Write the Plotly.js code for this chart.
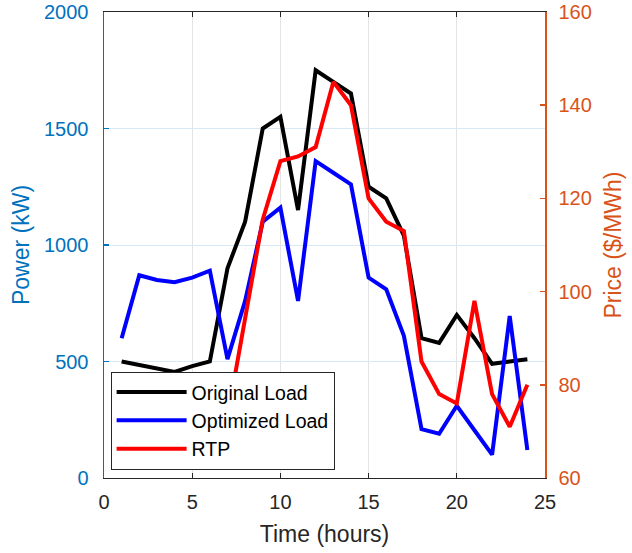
<!DOCTYPE html>
<html>
<head>
<meta charset="utf-8">
<script src="https://cdn.plot.ly/plotly-3.0.1.min.js"></script>
<style>html,body{margin:0;padding:0;background:#fff;}#chart{width:632px;height:553px;}</style>
</head>
<body>
<div id="chart"></div>
<script>
var hours = [1,2,3,4,5,6,7,8,9,10,11,12,13,14,15,16,17,18,19,20,21,22,23,24];
var originalLoad = [500,485,470,455,480,500,900,1100,1500,1550,1150,1750,1700,1650,1250,1200,1040,600,580,700,600,490,500,510];
var optimizedLoad = [600,870,850,840,860,890,510,760,1100,1160,760,1360,1310,1260,860,810,610,210,190,310,205,100,695,120];
var rtpHours = [7,8,9,10,11,12,13,14,15,16,17,18,19,20,21,22,23,24];
var rtpPrice = [73,94,115.5,128,129,131,145,140,120,115,113,85,78,76,98,78,71,80];

var FONT = 'Liberation Sans, Arial, Helvetica, sans-serif';
var BLUE_AX = '#0072BD';
var ORANGE_AX = '#D95319';
var DARK = '#262626';

var traces = [
  {x: hours, y: originalLoad, name: 'Original Load', type: 'scatter', mode: 'lines',
   line: {color: '#000000', width: 4}, yaxis: 'y'},
  {x: hours, y: optimizedLoad, name: 'Optimized Load', type: 'scatter', mode: 'lines',
   line: {color: '#0000FF', width: 4}, yaxis: 'y'},
  {x: rtpHours, y: rtpPrice, name: 'RTP', type: 'scatter', mode: 'lines',
   line: {color: '#FF0000', width: 4}, yaxis: 'y2'}
];

var layout = {
  width: 632, height: 553,
  margin: {l: 104, r: 87, t: 12, b: 75, pad: 0},
  paper_bgcolor: '#ffffff', plot_bgcolor: '#ffffff',
  font: {family: FONT, size: 20, color: DARK},
  showlegend: true,
  legend: {
    x: 0.015, y: 0.228, xanchor: 'left', yanchor: 'top',
    bgcolor: '#ffffff', bordercolor: DARK, borderwidth: 1,
    font: {family: FONT, size: 19.5, color: '#000000'},
    itemwidth: 70, tracegroupgap: 0
  },
  xaxis: {
    range: [0, 25], tick0: 0, dtick: 5, tickmode: 'linear',
    ticks: 'inside', ticklen: 5, tickwidth: 1, tickcolor: DARK,
    showline: true, linecolor: DARK, linewidth: 1, mirror: 'ticks',
    showgrid: true, gridcolor: '#e4e4e4', gridwidth: 1, zeroline: false,
    tickfont: {family: FONT, size: 20, color: DARK},
    ticklabelstandoff: 6,
    title: {text: 'Time (hours)', font: {family: FONT, size: 23, color: DARK}, standoff: 13}
  },
  yaxis: {
    range: [0, 2000], tick0: 0, dtick: 500, tickmode: 'linear',
    ticks: 'inside', ticklen: 5, tickwidth: 1.5, tickcolor: BLUE_AX,
    showline: true, linecolor: BLUE_AX, linewidth: 1.5, mirror: false,
    showgrid: true, gridcolor: '#d9e8f5', gridwidth: 1, zeroline: false,
    tickfont: {family: FONT, size: 20, color: BLUE_AX},
    ticklabelstandoff: 10,
    title: {text: 'Power (kW)', font: {family: FONT, size: 23, color: BLUE_AX}, standoff: 8}
  },
  yaxis2: {
    overlaying: 'y', side: 'right',
    range: [60, 160], tick0: 60, dtick: 20, tickmode: 'linear',
    ticks: 'inside', ticklen: 5, tickwidth: 1.5, tickcolor: ORANGE_AX,
    showline: true, linecolor: ORANGE_AX, linewidth: 1.5,
    showgrid: false, zeroline: false,
    tickfont: {family: FONT, size: 20, color: ORANGE_AX},
    ticklabelstandoff: 8,
    title: {text: 'Price ($/MWh)', font: {family: FONT, size: 23, color: ORANGE_AX}, standoff: 14}
  }
};

Plotly.newPlot('chart', traces, layout, {displayModeBar: false, staticPlot: true});
</script>
</body>
</html>
